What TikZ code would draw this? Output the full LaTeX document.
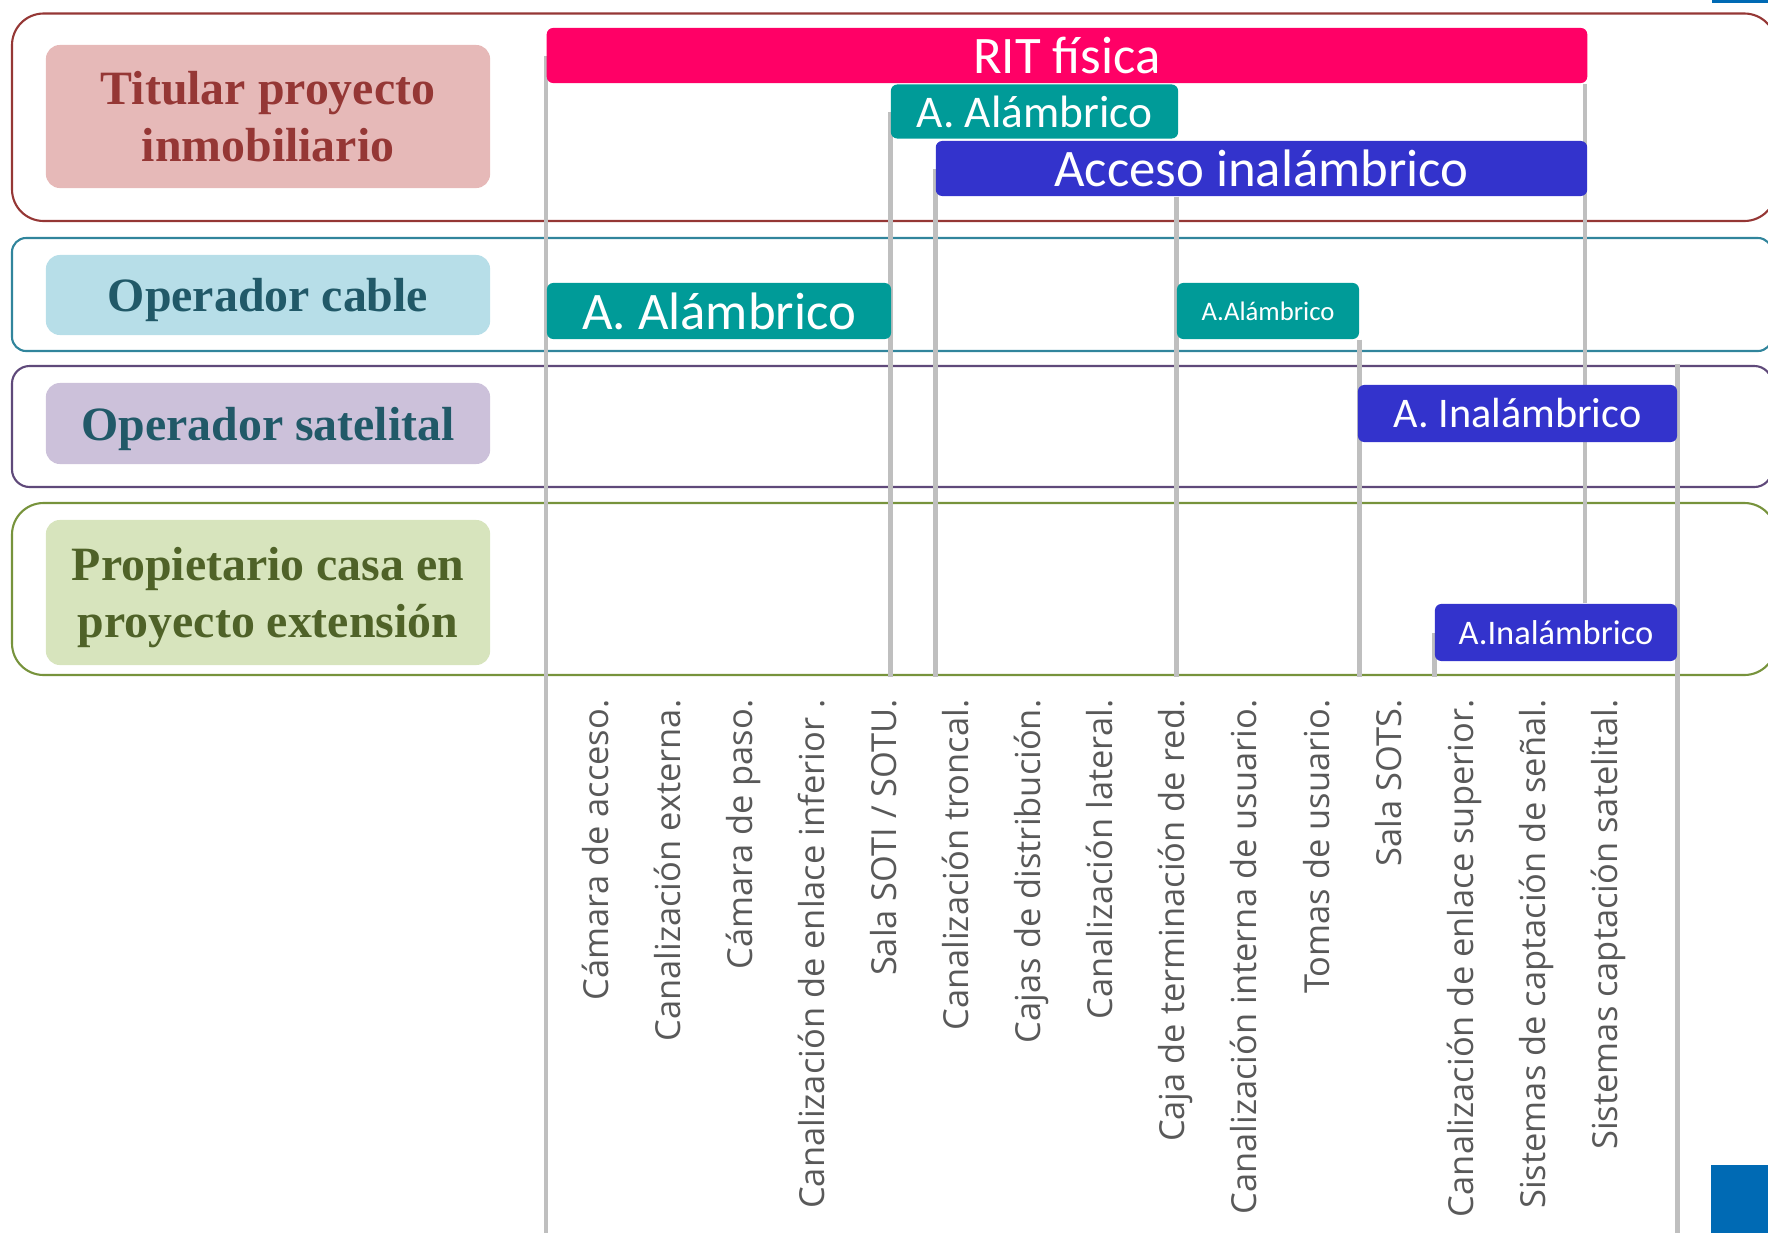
\documentclass[tikz,border=0pt]{standalone}
\usepackage{fontspec}
\setmainfont{Liberation Serif}
\newfontfamily\barfont{Carlito}
\newfontfamily\colfont{Open Sans}
\usetikzlibrary{positioning, calc, backgrounds}
\definecolor{Titular}{HTML}{953735}
\definecolor{TitularFill}{HTML}{E6B9B8}
\definecolor{Cable}{HTML}{31859C}
\definecolor{CableFill}{HTML}{B7DEE8}
\definecolor{CableText}{HTML}{215968}
\definecolor{Satelital}{HTML}{5F497A}
\definecolor{SatelitalFill}{HTML}{CCC1DA}
\definecolor{Propietario}{HTML}{77933C}
\definecolor{PropietarioFill}{HTML}{D7E4BD}
\definecolor{PropietarioText}{HTML}{4F6228}
\definecolor{Rit}{HTML}{FF0066}
\definecolor{Alambrico}{HTML}{009B98}
\definecolor{Inalambrico}{HTML}{3333CC}
\definecolor{Guide}{HTML}{BFBFBF}
\definecolor{ColText}{HTML}{595959}
\definecolor{Corner}{HTML}{006AB4}
\tikzset{
    rowbox/.style={line width=0.6pt},
    labelbox/.style={rectangle, rounded corners=4pt, align=center, inner sep=0pt, text depth=0pt, minimum width=4.44cm, font=\fontsize{13.6}{16.4}\selectfont\bfseries},
    bar/.style={rectangle, rounded corners=1.8pt, text=white, inner sep=0pt},
    guide/.style={draw=Guide, line width=1.4pt},
    colname/.style={rotate=90, anchor=mid east, inner sep=0pt, text=ColText, font=\colfont\fontsize{9.8}{12}\selectfont},
}

\begin{document}
\begin{tikzpicture}[x=0.01cm, y=-0.01cm]
    \useasboundingbox (0,0) rectangle (1768,1233);
    \coordinate (base) at (0,677);
    \coordinate (bottom) at (0,1233);

    % Etiquetas de las filas
    \node[labelbox, fill=TitularFill, text=Titular, minimum height=1.43cm] (titular) at (268,116.5) {Titular proyecto\\inmobiliario};
    \node[labelbox, fill=CableFill, text=CableText, minimum height=0.80cm] (cable) at (268,295) {Operador cable};
    \node[labelbox, fill=SatelitalFill, text=CableText, minimum height=0.81cm] (satelital) at (268,423.5) {Operador satelital};
    \node[labelbox, fill=PropietarioFill, text=PropietarioText, minimum height=1.45cm] (propietario) at (268,592.5) {Propietario casa en\\proyecto extensi\'on};

    % Barras
    \node[bar, fill=Rit, minimum width=10.40cm, minimum height=0.55cm, font=\barfont\fontsize{15}{18}\selectfont] (rit) at (1067,55.5) {RIT física};
    \node[bar, fill=Alambrico, minimum width=2.87cm, minimum height=0.54cm, font=\barfont\fontsize{12.9}{15}\selectfont] (alam1) at (1034.5,111.5) {A. Alámbrico};
    \node[bar, fill=Inalambrico, minimum width=6.51cm, minimum height=0.55cm, font=\barfont\fontsize{15}{18}\selectfont] (acceso) at (1261.5,168.5) {Acceso inalámbrico};
    \node[bar, fill=Alambrico, minimum width=3.44cm, minimum height=0.56cm, font=\barfont\fontsize{15}{18}\selectfont] (alam2) at (719,311) {A. Alámbrico};
    \node[bar, fill=Alambrico, minimum width=1.82cm, minimum height=0.56cm, font=\barfont\fontsize{7.6}{9}\selectfont] (alam3) at (1268,311) {A.Alámbrico};
    \node[bar, fill=Inalambrico, minimum width=3.19cm, minimum height=0.57cm, font=\barfont\fontsize{12}{14}\selectfont] (inal1) at (1517.5,413.5) {A. Inalámbrico};
    \node[bar, fill=Inalambrico, minimum width=2.42cm, minimum height=0.57cm, font=\barfont\fontsize{9.8}{12}\selectfont] (inal2) at (1556,632.5) {A.Inalámbrico};

    \begin{scope}[on background layer]
        % Filas
        \draw[rowbox, draw=Titular, rounded corners=9pt] (12,13.5) rectangle (1776,221);
        \draw[rowbox, draw=Cable, rounded corners=4pt] (12,238) rectangle (1772,351);
        \draw[rowbox, draw=Satelital, rounded corners=5pt] (12,366) rectangle (1772,487);
        \draw[rowbox, draw=Propietario, rounded corners=9pt] (12,503) rectangle (1776,675);

        % Lineas guia
        \draw[guide] (rit.west) -- (rit.west |- bottom);
        \draw[guide] (alam1.west) -- (alam1.west |- base);
        \draw[guide] (acceso.west) -- (acceso.west |- base);
        \draw[guide] (alam3.west |- acceso.south) -- (alam3.west |- base);
        \draw[guide] (alam3.south east) -- (alam3.east |- base);
        \draw[guide] ([xshift=-0.03cm]rit.south east) -- ([xshift=-0.03cm]rit.east |- inal2.north);
        \draw[guide] (inal1.east |- 0,364) -- (inal1.east |- bottom);
        \draw[guide] (inal2.west) -- (inal2.west |- base);
    \end{scope}

    % Elementos de la RIT
    \foreach \name [count=\i from 0] in {C\'amara de acceso., Canalizaci\'on externa., C\'amara de paso., Canalizaci\'on de enlace inferior ., {Sala SOTI / SOTU.}, Canalizaci\'on troncal., Cajas de distribuci\'on., Canalizaci\'on lateral., Caja de terminaci\'on de red., Canalizaci\'on interna de usuario., Tomas de usuario., Sala SOTS., Canalizaci\'on de enlace superior., Sistemas de captaci\'on de se\~nal., Sistemas captaci\'on satelital.}
        \node[colname] (col\i) at ({600+72.1*\i},699) {\name};

    % Marcas de la plantilla
    \fill[Corner] (1711,1165) rectangle (1768,1233);
    \fill[Corner] (1712,0) rectangle (1768,2.5);
\end{tikzpicture}
\end{document}
